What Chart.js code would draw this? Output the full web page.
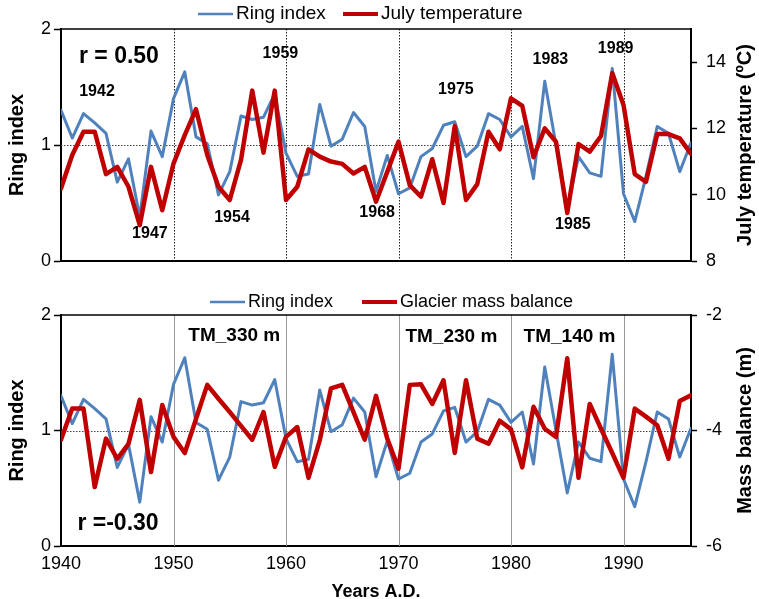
<!doctype html>
<html lang="en">
<head>
<meta charset="utf-8">
<title>Ring index, July temperature and glacier mass balance</title>
<style>
  * { margin: 0; padding: 0; }
  body { width: 759px; height: 599px; background: #fff; position: relative; overflow: hidden; }
  #topBox { position: absolute; left: 0; top: 0; width: 759px; height: 290px; }
  #bottomBox { position: absolute; left: 0; top: 290px; width: 759px; height: 309px; }
</style>
</head>
<body>
<div id="topBox"><canvas id="topChart" width="759" height="290"></canvas></div>
<div id="bottomBox"><canvas id="bottomChart" width="759" height="309"></canvas></div>
<script src="https://cdn.jsdelivr.net/npm/chart.js/dist/chart.umd.min.js"></script>
<script>
// data
const years = [
  1940, 1941, 1942, 1943, 1944, 1945, 1946, 1947, 1948, 1949,
  1950, 1951, 1952, 1953, 1954, 1955, 1956, 1957, 1958, 1959,
  1960, 1961, 1962, 1963, 1964, 1965, 1966, 1967, 1968, 1969,
  1970, 1971, 1972, 1973, 1974, 1975, 1976, 1977, 1978, 1979,
  1980, 1981, 1982, 1983, 1984, 1985, 1986, 1987, 1988, 1989,
  1990, 1991, 1992, 1993, 1994, 1995, 1996
];
const ringIndex = [
  1.30, 1.06, 1.27, 1.19, 1.10, 0.68, 0.88, 0.38, 1.12, 0.90,
  1.40, 1.63, 1.07, 1.01, 0.57, 0.77, 1.25, 1.22, 1.24, 1.44,
  0.93, 0.73, 0.75, 1.35, 0.99, 1.05, 1.28, 1.16, 0.60, 0.91,
  0.58, 0.63, 0.90, 0.97, 1.17, 1.20, 0.90, 0.99, 1.27, 1.22,
  1.07, 1.16, 0.71, 1.55, 1.00, 0.46, 0.90, 0.76, 0.73, 1.66,
  0.58, 0.34, 0.73, 1.16, 1.10, 0.77, 1.02
];
const julyTemp = [
  10.19, 11.20, 11.90, 11.90, 10.62, 10.84, 10.24, 9.08, 10.84, 9.53,
  10.94, 11.80, 12.58, 11.20, 10.24, 9.84, 11.05, 13.14, 11.27, 13.14,
  9.84, 10.24, 11.37, 11.15, 11.00, 10.93, 10.64, 10.84, 9.79, 10.69,
  11.60, 10.29, 9.94, 11.07, 9.75, 12.07, 9.84, 10.32, 11.90, 11.37,
  12.91, 12.68, 11.13, 12.00, 11.60, 9.45, 11.53, 11.30, 11.77, 13.67,
  12.71, 10.62, 10.39, 11.83, 11.83, 11.70, 11.23
];
const massBalance = [
  -4.16, -3.62, -3.62, -4.98, -4.14, -4.49, -4.23, -3.47, -4.72, -3.56,
  -4.11, -4.39, -3.80, -3.21, -3.45, -3.68, -3.92, -4.16, -3.68, -4.63,
  -4.11, -3.94, -4.82, -4.17, -3.27, -3.21, -3.68, -4.16, -3.40, -4.14,
  -4.66, -3.21, -3.20, -3.54, -3.13, -4.39, -3.13, -4.14, -4.23, -3.83,
  -3.98, -4.64, -3.59, -3.97, -4.11, -2.75, -4.82, -3.54, -3.97, -4.39,
  -4.82, -3.62, -3.76, -3.91, -4.49, -3.49, -3.39
];

const yearTicks = [1940, 1950, 1960, 1970, 1980, 1990];
const ringTicks = [0, 1, 2];
const tempTicks = [8, 10, 12, 14];
const massTicks = [-6, -4, -2];

const FONT = "'Liberation Sans', Arial, Helvetica, sans-serif";
const BLUE = '#4f81bd';
const RED = '#c00000';

function points(ys) {
  return years.map((yr, i) => ({x: yr, y: ys[i]}));
}

// grid lines, frame, legend, notes and right-hand title
const decorPlugin = {
  id: 'decor',
  beforeDatasetsDraw(chart, args, opts) {
    const {ctx, chartArea: {left, right, top, bottom}, scales: {x, y}} = chart;
    ctx.save();
    ctx.lineWidth = 1;
    ctx.strokeStyle = opts.vColor;
    ctx.setLineDash(opts.vDash);
    yearTicks.slice(1).forEach(yr => {
      const px = Math.round(x.getPixelForValue(yr)) + 0.5;
      ctx.beginPath();
      ctx.moveTo(px, top);
      ctx.lineTo(px, bottom);
      ctx.stroke();
    });
    ctx.strokeStyle = '#444';
    ctx.setLineDash([1.5, 1.5]);
    const py = Math.round(y.getPixelForValue(1)) + 0.5;
    ctx.beginPath();
    ctx.moveTo(left, py);
    ctx.lineTo(right, py);
    ctx.stroke();
    ctx.setLineDash([]);
    ctx.strokeStyle = '#000';
    ctx.lineWidth = 1.5;
    ctx.beginPath();
    ctx.moveTo(left, top);
    ctx.lineTo(right, top);
    ctx.stroke();
    ctx.restore();
  },
  afterDraw(chart, args, opts) {
    const {ctx, chartArea: {top, bottom}, scales: {x, y}} = chart;
    ctx.save();
    // legend
    ctx.font = opts.legendSize + 'px ' + FONT;
    ctx.textAlign = 'left';
    ctx.textBaseline = 'middle';
    chart.data.datasets.forEach((ds, i) => {
      const lx = opts.legendX[i];
      ctx.strokeStyle = ds.borderColor;
      ctx.lineWidth = ds.borderWidth - 0.5;
      ctx.beginPath();
      ctx.moveTo(lx, opts.legendY);
      ctx.lineTo(lx + 35, opts.legendY);
      ctx.stroke();
      ctx.fillStyle = '#000';
      ctx.fillText(ds.label, lx + 38, opts.legendY);
    });
    // notes
    ctx.textAlign = 'center';
    opts.notes.forEach(n => {
      ctx.font = 'bold ' + n.size + 'px ' + FONT;
      ctx.fillText(n.text, x.getPixelForValue(n.x), y.getPixelForValue(n.y));
    });
    // right axis title, reading upward
    ctx.font = 'bold 20px ' + FONT;
    ctx.translate(chart.width - 14, (top + bottom) / 2);
    ctx.rotate(-Math.PI / 2);
    ctx.fillText(opts.rightTitle, 0, 0);
    ctx.restore();
  }
};

function makeChart(canvasId, second, showX) {
  const tickFont = {family: FONT, size: 18};
  const config = {
    type: 'line',
    data: {
      datasets: [
        {
          label: 'Ring index',
          data: points(ringIndex),
          yAxisID: 'y',
          borderColor: BLUE,
          borderWidth: 3,
          order: 1
        },
        {
          label: second.label,
          data: points(second.values),
          yAxisID: 'y1',
          borderColor: RED,
          borderWidth: 4.5,
          order: 0
        }
      ]
    },
    options: {
      responsive: false,
      animation: false,
      devicePixelRatio: 1,
      layout: {padding: {top: second.padTop, left: 0, right: 0, bottom: 0}},
      elements: {
        point: {radius: 0},
        line: {tension: 0, borderJoinStyle: 'round', borderCapStyle: 'round'}
      },
      plugins: {
        legend: {display: false},
        tooltip: {enabled: false},
        decor: second.decor
      },
      scales: {
        x: {
          type: 'linear',
          min: 1940,
          max: 1996,
          afterBuildTicks: s => { s.ticks = yearTicks.map(v => ({value: v})); },
          afterFit: s => { s.height = second.xHeight; },
          grid: {drawOnChartArea: false, drawTicks: false},
          border: {color: '#000', width: 2},
          ticks: {
            display: showX,
            color: '#000',
            font: tickFont,
            padding: 7,
            maxRotation: 0,
            autoSkip: false,
            callback: v => String(v)
          },
          title: {
            display: showX,
            text: 'Years A.D.',
            color: '#000',
            font: {family: FONT, size: 18, weight: 'bold', lineHeight: 1},
            padding: {top: 0, bottom: -2}
          }
        },
        y: {
          position: 'left',
          min: 0,
          max: 2,
          afterBuildTicks: s => { s.ticks = ringTicks.map(v => ({value: v})); },
          afterFit: s => { s.width = 61; },
          grid: {drawOnChartArea: false, tickLength: 7, color: '#000', tickWidth: 1.5},
          border: {color: '#000', width: 2},
          ticks: {color: '#000', font: tickFont, padding: 3},
          title: {
            display: true,
            text: 'Ring index',
            color: '#000',
            font: {family: FONT, size: 20, weight: 'bold'},
            padding: {top: 5, bottom: 0}
          }
        },
        y1: {
          position: 'right',
          min: second.min,
          max: second.max,
          afterBuildTicks: s => { s.ticks = second.ticks.map(v => ({value: v})); },
          afterFit: s => { s.width = 68; },
          grid: {drawOnChartArea: false, tickLength: 6, color: '#000', tickWidth: 1.5},
          border: {color: '#000', width: 2},
          ticks: {color: '#000', font: tickFont, padding: 9}
        }
      }
    },
    plugins: [decorPlugin]
  };
  return new Chart(document.getElementById(canvasId), config);
}

const topChart = makeChart('topChart', {
  label: 'July temperature',
  values: julyTemp,
  min: 8,
  max: 15,
  ticks: tempTicks,
  padTop: 29,
  xHeight: 29,
  decor: {
    vColor: '#222',
    vDash: [1.5, 1.5],
    legendX: [198, 343],
    legendY: 14,
    legendSize: 19,
    rightTitle: 'July temperature (\u00baC)',
    notes: [
      {text: 'r = 0.50', x: 1945.15, y: 1.76, size: 23},
      {text: '1942', x: 1943.2, y: 1.46, size: 16},
      {text: '1947', x: 1947.9, y: 0.24, size: 16},
      {text: '1954', x: 1955.2, y: 0.37, size: 16},
      {text: '1959', x: 1959.5, y: 1.79, size: 16},
      {text: '1968', x: 1968.1, y: 0.42, size: 16},
      {text: '1975', x: 1975.1, y: 1.48, size: 16},
      {text: '1983', x: 1983.5, y: 1.74, size: 16},
      {text: '1985', x: 1985.5, y: 0.31, size: 16},
      {text: '1989', x: 1989.3, y: 1.83, size: 16}
    ]
  }
}, false);

const bottomChart = makeChart('bottomChart', {
  label: 'Glacier mass balance',
  values: massBalance,
  min: -6,
  max: -2,
  ticks: massTicks,
  padTop: 25,
  xHeight: 53,
  decor: {
    vColor: '#999',
    vDash: [],
    legendX: [210, 362],
    legendY: 12,
    legendSize: 18,
    rightTitle: 'Mass balance (m)',
    notes: [
      {text: 'TM_330 m', x: 1955.4, y: 1.82, size: 19},
      {text: 'TM_230 m', x: 1974.7, y: 1.81, size: 19},
      {text: 'TM_140 m', x: 1985.2, y: 1.81, size: 19},
      {text: 'r =-0.30', x: 1945.07, y: 0.19, size: 23}
    ]
  }
}, true);
</script>
</body>
</html>
